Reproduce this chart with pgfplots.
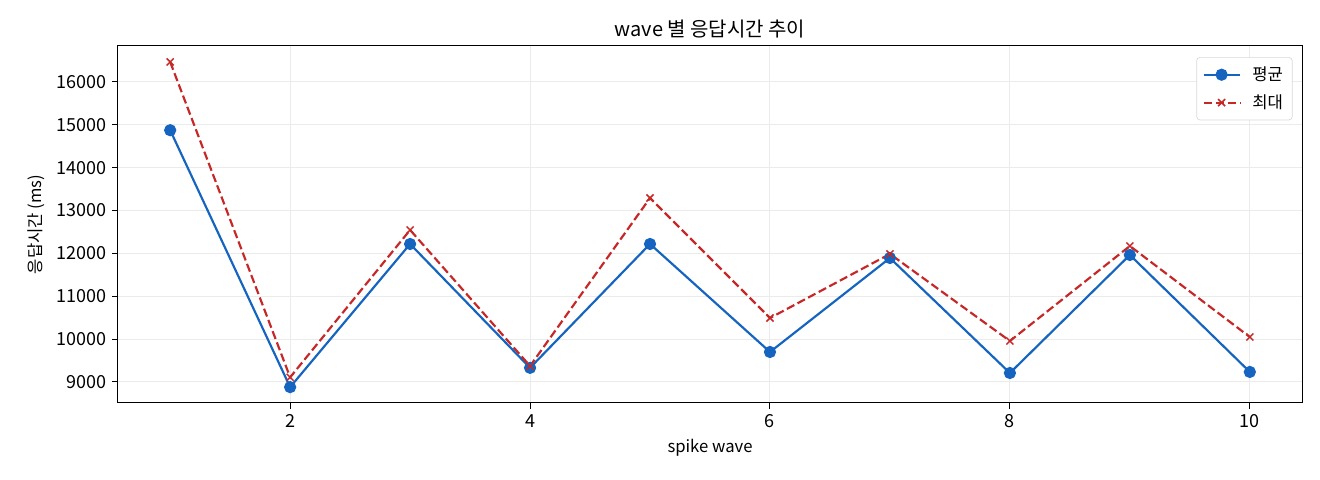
\documentclass[border=0pt]{standalone}
\usepackage{pgfplots}
\pgfplotsset{compat=1.18}
\usepackage{fontspec}
\setmainfont{Noto Sans CJK KR}
\definecolor{cblue}{HTML}{1565C0}
\definecolor{cred}{HTML}{C62828}
\definecolor{cgrid}{HTML}{EBEBEB}
\begin{document}
\begin{tikzpicture}
\useasboundingbox (-70.8pt,-46.2pt) rectangle (721.2pt,241.8pt);
\begin{axis}[
  scale only axis,
  width=710.4pt, height=214.2pt,
  xmin=0.565, xmax=10.435,
  ymin=8510, ymax=16840,
  xtick={2,4,6,8,10},
  ytick={9000,10000,11000,12000,13000,14000,15000,16000},
  scaled ticks=false,
  /pgf/number format/.cd, 1000 sep={}, assume math mode=true,
  /pgfplots/.cd,
  tick align=outside,
  major tick length=3.5pt,
  xtick pos=left, ytick pos=left,
  tick style={black, line width=0.6pt},
  axis line style={line width=0.6pt},
  grid=major,
  grid style={cgrid, line width=0.6pt},
  ticklabel style={font=\fontsize{10.8}{13}\selectfont},
  xlabel={spike wave},
  ylabel={응답시간 (ms)},
  label style={font=\fontsize{10}{12}\selectfont},
  title={wave 별 응답시간 추이},
  title style={font=\fontsize{12}{14}\selectfont, yshift=-5pt},
  legend style={at={(0.992,0.969)}, anchor=north east, font=\fontsize{10}{12}\selectfont, draw=black!15, rounded corners=2pt, fill=white, row sep=3pt, inner sep=3.5pt},
  legend cell align=left,
  legend image code/.code={\draw[mark repeat=2,mark phase=2,#1] plot coordinates {(0cm,0cm) (0.38cm,0cm) (0.76cm,0cm)};},
]
\addplot[cblue, line width=1.3pt, mark=*, mark size=3pt, mark options={solid}] coordinates {
(1,14875) (2,8880) (3,12220) (4,9330) (5,12220) (6,9700) (7,11893) (8,9210) (9,11964) (10,9235)
};
\addlegendentry{\hspace{5pt}평균}
\addplot[cred, line width=1.3pt, dash pattern=on 5pt off 2.2pt, mark=x, mark size=3pt, mark options={solid, line width=0.9pt}] coordinates {
(1,16467) (2,9110) (3,12547) (4,9373) (5,13293) (6,10493) (7,11987) (8,9957) (9,12173) (10,10050)
};
\addlegendentry{\hspace{5pt}최대}
\end{axis}
\end{tikzpicture}
\end{document}
